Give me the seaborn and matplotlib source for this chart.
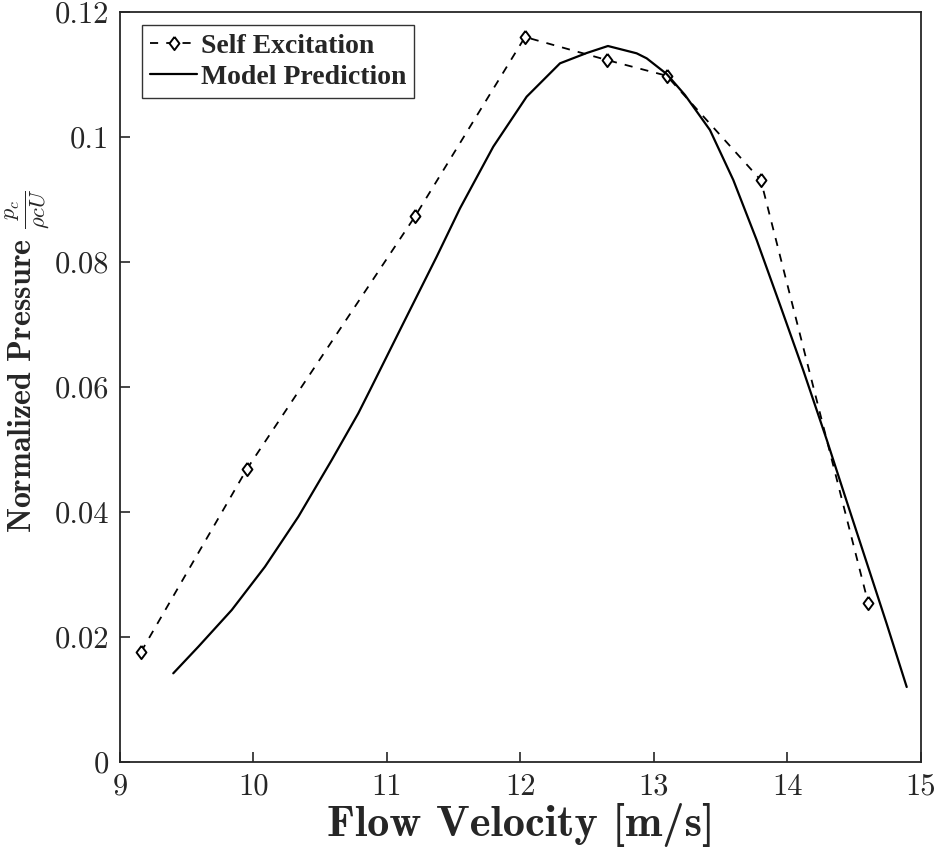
import numpy as np
import pandas as pd
import matplotlib
matplotlib.use("Agg")
import matplotlib.pyplot as plt
import seaborn as sns

# ---- data ----
exp_velocity = [9.157, 9.951, 11.21, 12.034, 12.65, 13.095, 13.80, 14.605]
exp_pressure = [0.0176, 0.0469, 0.0873, 0.1160, 0.1123, 0.1098, 0.0931, 0.0254]

model_velocity = [9.399, 9.587, 9.837, 10.086, 10.336, 10.586, 10.785, 10.873,
                  11.122, 11.372, 11.547, 11.796, 12.046, 12.296, 12.496,
                  12.655, 12.870, 12.945, 13.095, 13.232, 13.419, 13.594, 13.769,
                  13.944, 14.118, 14.294, 14.443, 14.593, 14.743, 14.893]
model_pressure = [0.01419, 0.01845, 0.02432, 0.03125, 0.03925, 0.04832, 0.05579, 0.05952,
                  0.07019, 0.08085, 0.08859, 0.09845, 0.10645, 0.11179, 0.11344,
                  0.11456, 0.11339, 0.11259, 0.11008, 0.10672, 0.10112, 0.09312, 0.08352,
                  0.07314, 0.06267, 0.05155, 0.04173, 0.03192, 0.02211, 0.01200]

x_ticks = [9, 10, 11, 12, 13, 14, 15]
x_tick_labels = ["9", "10", "11", "12", "13", "14", "15"]
y_ticks = [0, 0.02, 0.04, 0.06, 0.08, 0.10, 0.12]
y_tick_labels = ["0", "0.02", "0.04", "0.06", "0.08", "0.1", "0.12"]

exp_df = pd.DataFrame({"Flow Velocity": exp_velocity, "Pressure": exp_pressure})
model_df = pd.DataFrame({"Flow Velocity": model_velocity, "Pressure": model_pressure})

sns.set_style("white")
plt.rcParams["font.family"] = ["cmr10", "DejaVu Serif"]
plt.rcParams["mathtext.fontset"] = "cm"
plt.rcParams["axes.formatter.use_mathtext"] = True

axis_gray = "#262626"
diamond = [(0, 1), (0.75, 0), (0, -1), (-0.75, 0), (0, 1)]

fig = plt.figure(figsize=(9.38, 8.49), dpi=100)
ax = fig.add_axes([120 / 938, 1 - 762 / 849, (921 - 120) / 938, (762 - 12) / 849])

sns.lineplot(data=exp_df, x="Flow Velocity", y="Pressure", ax=ax, estimator=None, sort=False,
             color="black", linestyle=(0, (4.5, 4.5)), linewidth=1.3,
             marker=diamond, markersize=9.5, markerfacecolor="white", markeredgecolor="black",
             markeredgewidth=1.4, label="Self Excitation")
sns.lineplot(data=model_df, x="Flow Velocity", y="Pressure", ax=ax, estimator=None, sort=False,
             color="black", linewidth=1.6, label="Model Prediction")

ax.set_xlim(9, 15)
ax.set_ylim(0, 0.12)
ax.set_xticks(x_ticks)
ax.set_xticklabels(x_tick_labels)
ax.set_yticks(y_ticks)
ax.set_yticklabels(y_tick_labels)
ax.tick_params(direction="in", length=7, width=1.2, labelsize=22, colors=axis_gray,
               bottom=True, left=True, top=False, right=False, pad=8)
for s in ax.spines.values():
    s.set_visible(True)
    s.set_color(axis_gray)
    s.set_linewidth(1.3)

ax.set_xlabel("Flow Velocity [m/s]", fontsize=32, fontfamily="cmb10", color=axis_gray, labelpad=2)
ax.set_ylabel(r"Normalized Pressure $\frac{p_c}{\rho c U}$", fontsize=23, fontfamily="cmb10",
              color=axis_gray)
ax.yaxis.set_label_coords(-0.085, 0.535)

leg = ax.legend(loc="upper left", bbox_to_anchor=(0.027, 0.983), frameon=True, fancybox=False,
                edgecolor="black", handlelength=1.7, handletextpad=0.12, borderpad=0.3,
                labelspacing=0.2, borderaxespad=0,
                prop={"family": "Liberation Serif", "weight": "bold", "size": 20})
leg.get_frame().set_linewidth(1.0)

fig.savefig("out.png", dpi=100)
